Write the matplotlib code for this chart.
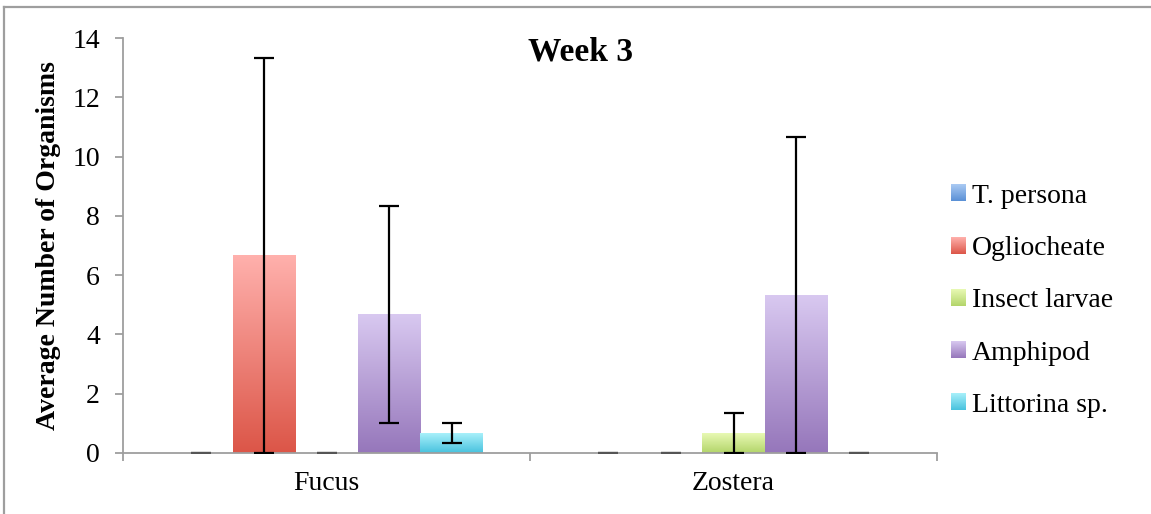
import numpy as np
import matplotlib
matplotlib.use("Agg")
import matplotlib.pyplot as plt
from matplotlib.colors import to_rgb
from matplotlib.image import BboxImage
from matplotlib.legend_handler import HandlerBase
from matplotlib.lines import Line2D
from matplotlib.patches import Patch
from matplotlib.transforms import Bbox, TransformedBbox

plt.rcParams["font.family"] = ["Liberation Serif", "DejaVu Serif"]

SITES = ["Fucus", "Zostera"]
SPECIES = ["T. persona", "Ogliocheate", "Insect larvae", "Amphipod", "Littorina sp."]
# mean counts per species, one list per species (Fucus, Zostera)
T_PERSONA = [0, 0]
OGLIOCHEATE = [6.67, 0]
INSECT_LARVAE = [0, 0.67]
AMPHIPOD = [4.67, 5.33]
LITTORINA = [0.67, 0]
# error bar half-widths
T_PERSONA_ERR = [0, 0]
OGLIOCHEATE_ERR = [6.67, 0]
INSECT_LARVAE_ERR = [0, 0.67]
AMPHIPOD_ERR = [3.67, 5.33]
LITTORINA_ERR = [0.33, 0]
Y_TICKS = [0, 2, 4, 6, 8, 10, 12, 14]

MEANS = [T_PERSONA, OGLIOCHEATE, INSECT_LARVAE, AMPHIPOD, LITTORINA]
ERRS = [T_PERSONA_ERR, OGLIOCHEATE_ERR, INSECT_LARVAE_ERR, AMPHIPOD_ERR, LITTORINA_ERR]

# (top, bottom) gradient colours, Excel style
GRADIENTS = [
    ("#AACAF3", "#5A90D6"),
    ("#FFB0AC", "#DC5648"),
    ("#E8F9B4", "#B3D56A"),
    ("#D8C8F0", "#9677BB"),
    ("#A8F0FA", "#48C2DE"),
]

GREY = "#9E9E9E"
W, H = 1151, 514


def gradient(top, bottom, n=64):
    t = np.linspace(0, 1, n)[:, None]
    c0 = np.array(to_rgb(bottom))
    c1 = np.array(to_rgb(top))
    return (c0 + (c1 - c0) * t)[:, None, :]


class GradientHandler(HandlerBase):
    def __init__(self, colors):
        super().__init__()
        self.colors = colors

    def create_artists(self, legend, orig_handle, xdescent, ydescent, width, height, fontsize, trans):
        box = TransformedBbox(Bbox.from_bounds(-xdescent, -ydescent, width, height), trans)
        img = BboxImage(box, interpolation="bilinear", origin="lower")
        img.set_data(gradient(*self.colors))
        return [img]


fig = plt.figure(figsize=(W / 100, H / 100), dpi=100)
ax = fig.add_axes([123 / W, 1 - 453 / H, (937 - 123) / W, (453 - 38) / H])

n = len(SPECIES)
bar_w = 1 / (n + 1.5)
x = np.arange(len(SITES))

for i, (vals, errs, cols) in enumerate(zip(MEANS, ERRS, GRADIENTS)):
    pos = x + (i - (n - 1) / 2) * bar_w
    for p, v, e in zip(pos, vals, errs):
        if v > 0:
            ax.imshow(gradient(*cols), extent=[p - bar_w / 2, p + bar_w / 2, 0, v],
                      aspect="auto", origin="lower", interpolation="bilinear", zorder=2)
        ec = "black" if e > 0 else "#555555"
        ax.errorbar(p, v, yerr=e, fmt="none", ecolor=ec, elinewidth=1.6,
                    capsize=7, capthick=1.6, zorder=4)

ax.set_xlim(-0.5, len(SITES) - 0.5)
ax.set_ylim(0, 14)
ax.set_yticks(Y_TICKS)
ax.set_xticks(x)
ax.set_xticklabels(SITES)
ax.set_xticks(np.arange(len(SITES) + 1) - 0.5, minor=True)

for side in ["top", "right"]:
    ax.spines[side].set_visible(False)
for side in ["left", "bottom"]:
    ax.spines[side].set_color(GREY)
    ax.spines[side].set_linewidth(1.3)
    ax.spines[side].set_zorder(3)

ax.tick_params(axis="y", direction="out", length=5.5, width=1.3, color=GREY, labelsize=20, pad=11)
ax.tick_params(axis="x", which="major", length=0, labelsize=20, pad=13)
ax.tick_params(axis="x", which="minor", direction="out", length=5.5, width=1.3, color=GREY)

ax.set_ylabel("Average Number of Organisms", fontsize=20, fontweight="bold", labelpad=8)
fig.text(580 / W, 1 - 52 / H, "Week 3", fontsize=24, fontweight="bold", ha="center", va="center")

handles = [Patch(label=s) for s in SPECIES]
handler_map = {h: GradientHandler(c) for h, c in zip(handles, GRADIENTS)}
ax.legend(handles=handles, handler_map=handler_map, frameon=False, fontsize=20,
          loc="upper left", bbox_to_anchor=(951 / W, 1 - 184 / H), bbox_transform=fig.transFigure,
          borderpad=0, borderaxespad=0, handlelength=0.54, handleheight=0.54,
          handletextpad=0.22, labelspacing=0.98)

# outer chart border (left and top edges visible)
fig.add_artist(Line2D([4 / W, 4 / W], [0, 1 - 7 / H], color=GREY, lw=1.6))
fig.add_artist(Line2D([4 / W, 1], [1 - 7 / H, 1 - 7 / H], color=GREY, lw=1.6))

fig.savefig("out.png", dpi=100)
